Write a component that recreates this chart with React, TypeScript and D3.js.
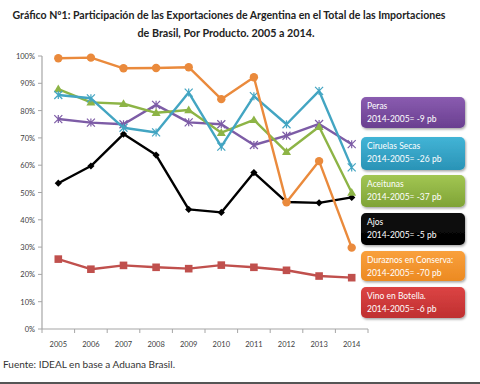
import React from "react";
import * as d3 from "d3";

const years = ["2005", "2006", "2007", "2008", "2009", "2010", "2011", "2012", "2013", "2014"];
const duraznos = [99.2, 99.4, 95.5, 95.6, 95.9, 84.2, 92.2, 46.4, 61.5, 29.8];
const ciruelas = [85.7, 84.5, 73.7, 72.0, 86.6, 66.8, 85.3, 75.0, 87.2, 59.2];
const aceitunas = [87.9, 83.0, 82.5, 79.2, 80.2, 71.9, 76.6, 64.9, 74.1, 50.0];
const peras = [76.9, 75.6, 75.0, 82.1, 75.7, 75.0, 67.4, 70.8, 75.1, 67.7];
const ajos = [53.4, 59.7, 71.4, 63.7, 43.8, 42.7, 57.3, 46.5, 46.2, 48.2];
const vino = [25.6, 21.9, 23.3, 22.6, 22.1, 23.4, 22.6, 21.5, 19.4, 18.8];
const yTicks = [0, 10, 20, 30, 40, 50, 60, 70, 80, 90, 100];

const legendNames = ["Peras", "Ciruelas Secas", "Aceitunas", "Ajos", "Duraznos en Conserva:", "Vino en Botella."];
const legendDiffs = ["2014-2005=  -9 pb", "2014-2005=  -26 pb", "2014-2005=  -37 pb", "2014-2005=  -5 pb", "2014-2005= -70 pb", "2014-2005=  -6 pb"];

const FONT = "Lato, 'Open Sans', sans-serif";

type Series = { values: number[]; color: string; marker: string };
const series: Series[] = [
  { values: vino, color: "#c0504d", marker: "square" },
  { values: ajos, color: "#000000", marker: "diamond" },
  { values: peras, color: "#7d5ca6", marker: "x" },
  { values: aceitunas, color: "#8db446", marker: "triangle" },
  { values: ciruelas, color: "#43a5c2", marker: "x" },
  { values: duraznos, color: "#ea8a3c", marker: "circle" },
];

const legendStyles = [
  { top: 97, h: 31, c1: "#8a5cb0", c2: "#6a3f90" },
  { top: 137, h: 33, c1: "#42b4d6", c2: "#2a93b6" },
  { top: 175, h: 32, c1: "#a2c653", c2: "#7fa336" },
  { top: 213, h: 32, c1: "#111111", c2: "#000000" },
  { top: 251, h: 30, c1: "#f9a03c", c2: "#ec8a22" },
  { top: 287, h: 31, c1: "#dc4444", c2: "#bf2f30" },
];

function Marker({ type, x, y, color }: { type: string; x: number; y: number; color: string }) {
  if (type === "circle") return <circle cx={x} cy={y} r={4.2} fill={color} />;
  if (type === "square") return <rect x={x - 3.8} y={y - 3.8} width={7.6} height={7.6} fill={color} />;
  if (type === "diamond") return <path d={`M${x},${y - 3.6}L${x + 3.6},${y}L${x},${y + 3.6}L${x - 3.6},${y}Z`} fill={color} />;
  if (type === "triangle") return <path d={`M${x},${y - 4.5}L${x + 4.5},${y + 3.2}L${x - 4.5},${y + 3.2}Z`} fill={color} />;
  const s = 4;
  return (
    <path d={`M${x - s},${y - s}L${x + s},${y + s}M${x - s},${y + s}L${x + s},${y - s}M${x},${y - s}L${x},${y + s}`} stroke={color} strokeWidth={1.2} />
  );
}

export default function App() {
  const W = 480, H = 384;
  const x = d3.scaleBand<string>().domain(years).range([42, 368]).padding(0);
  const y = d3.scaleLinear().domain([0, 100]).range([329, 56]);
  const cx = (d: string) => (x(d) as number) + x.bandwidth() / 2;
  const line = d3.line<number>().x((_, i) => cx(years[i])).y((v) => y(v));
  const axisColor = "#a6a6a6";
  const tickXs = [...years.map((d) => x(d) as number), 368];

  return (
    <svg width={W} height={H} style={{ position: "absolute", left: 0, top: 0, background: "#fff" }} fontFamily={FONT}>
      <defs>
        {legendStyles.map((s, i) => (
          <linearGradient key={i} id={`g${i}`} x1="0" y1="0" x2="0" y2="1">
            <stop offset="0" stopColor={s.c1} />
            <stop offset="1" stopColor={s.c2} />
          </linearGradient>
        ))}
        <filter id="sh" x="-10%" y="-10%" width="130%" height="140%">
          <feDropShadow dx="1" dy="1.5" stdDeviation="1.2" floodColor="#000" floodOpacity="0.35" />
        </filter>
      </defs>
      <rect width={W} height={H} fill="#fff" />
      <text x={229} y={19} textAnchor="middle" fontSize={11} fontWeight="bold" fill="#222" textLength={433} lengthAdjust="spacingAndGlyphs">
        Gráfico Nº1: Participación de las Exportaciones de Argentina en el Total de las Importaciones
      </text>
      <text x={226} y={37} textAnchor="middle" fontSize={11} fontWeight="bold" fill="#222" textLength={177} lengthAdjust="spacingAndGlyphs">
        de Brasil, Por Producto. 2005 a 2014.
      </text>

      {/* axes */}
      <line x1={42} x2={42} y1={56} y2={329} stroke={axisColor} strokeWidth={1.2} />
      <line x1={42} x2={368} y1={329} y2={329} stroke={axisColor} strokeWidth={1.2} />
      {yTicks.map((t) => (
        <g key={t}>
          <line x1={38} x2={42} y1={y(t)} y2={y(t)} stroke={axisColor} />
          <text x={35} y={y(t) + 3} textAnchor="end" fontSize={7.5} fill="#404040">{t}%</text>
        </g>
      ))}
      {tickXs.map((t, i) => (
        <line key={i} x1={t} x2={t} y1={329} y2={333} stroke={axisColor} />
      ))}
      {years.map((d) => (
        <text key={d} x={cx(d)} y={347} textAnchor="middle" fontSize={7.5} fill="#404040">{d}</text>
      ))}

      {/* series */}
      {series.map((s, si) => (
        <g key={si}>
          <path d={line(s.values) || ""} fill="none" stroke={s.color} strokeWidth={2.4} strokeLinejoin="round" />
          {s.values.map((v, i) => (
            <Marker key={i} type={s.marker} x={cx(years[i])} y={y(v)} color={s.color} />
          ))}
        </g>
      ))}

      {/* legend boxes */}
      {legendStyles.map((s, i) => (
        <g key={i}>
          <rect x={361} y={s.top} width={104} height={s.h} rx={5} fill={`url(#g${i})`} filter="url(#sh)" />
          <text x={367} y={s.top + 12} fontSize={8.5} fill="#fff">{legendNames[i]}</text>
          <text x={367} y={s.top + 25} fontSize={8.5} fill="#fff">{legendDiffs[i]}</text>
        </g>
      ))}

      <text x={3} y={368} fontSize={9.5} fill="#333" textLength={172} lengthAdjust="spacingAndGlyphs">Fuente: IDEAL en base a Aduana Brasil.</text>
      <line x1={0} x2={W} y1={383} y2={383} stroke="#555" strokeWidth={2} />
    </svg>
  );
}
